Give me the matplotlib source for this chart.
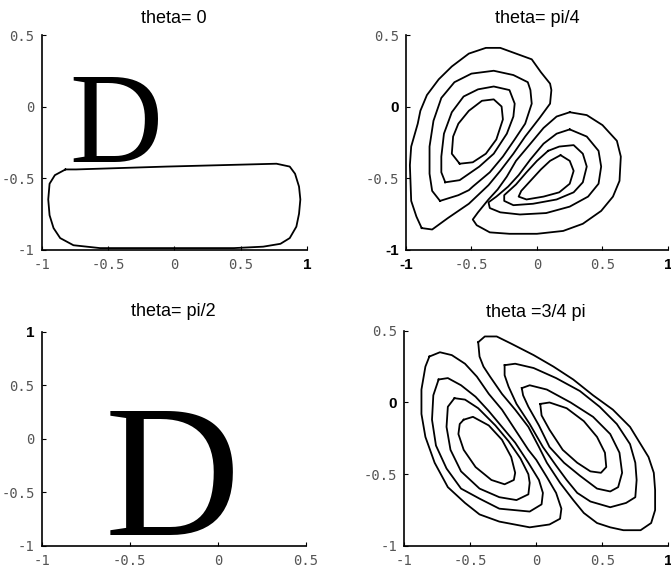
import matplotlib
matplotlib.use('Agg')
import matplotlib.pyplot as plt

# contour outlines, (x, y) in data units
theta0_loop = [(-0.82, -0.44), (-0.74, -0.44), (-0.06, -0.42), (0.77, -0.40), (0.87, -0.42),
               (0.91, -0.47), (0.94, -0.56), (0.95, -0.65), (0.94, -0.75), (0.92, -0.84),
               (0.87, -0.92), (0.80, -0.96), (0.67, -0.98), (0.45, -0.99), (-0.06, -0.99),
               (-0.56, -0.99), (-0.76, -0.97), (-0.86, -0.92), (-0.91, -0.85), (-0.94, -0.76),
               (-0.95, -0.65), (-0.94, -0.54), (-0.90, -0.48)]

pi4_left1 = [(-0.88, -0.85), (-0.92, -0.77), (-0.96, -0.66), (-0.97, -0.41), (-0.96, -0.28),
             (-0.91, -0.12), (-0.89, -0.03), (-0.84, 0.08), (-0.75, 0.19), (-0.65, 0.28),
             (-0.52, 0.37), (-0.39, 0.41), (-0.28, 0.41), (-0.16, 0.37), (-0.04, 0.33),
             (0.03, 0.24), (0.10, 0.16), (0.11, 0.115), (0.10, 0.02), (0.02, -0.08),
             (-0.09, -0.21), (-0.18, -0.33), (-0.28, -0.45), (-0.37, -0.55), (-0.52, -0.68),
             (-0.68, -0.78), (-0.80, -0.86)]
pi4_left2 = [(-0.74, -0.66), (-0.80, -0.59), (-0.82, -0.47), (-0.82, -0.28), (-0.79, -0.10),
             (-0.73, 0.06), (-0.63, 0.17), (-0.50, 0.23), (-0.33, 0.25), (-0.18, 0.22),
             (-0.07, 0.17), (-0.05, 0.115), (-0.04, 0.02), (-0.09, -0.12), (-0.17, -0.23),
             (-0.26, -0.35), (-0.36, -0.46), (-0.49, -0.56), (-0.52, -0.585), (-0.60, -0.62)]
pi4_left3 = [(-0.70, -0.53), (-0.73, -0.46), (-0.73, -0.35), (-0.71, -0.19), (-0.65, -0.04),
             (-0.56, 0.07), (-0.45, 0.12), (-0.33, 0.14), (-0.21, 0.115), (-0.17, 0.02),
             (-0.18, -0.07), (-0.23, -0.19), (-0.33, -0.33), (-0.44, -0.42), (-0.59, -0.515)]
pi4_left4 = [(-0.59, -0.40), (-0.65, -0.33), (-0.64, -0.21), (-0.60, -0.12), (-0.52, -0.03),
             (-0.42, 0.04), (-0.33, 0.05), (-0.27, 0.00), (-0.26, -0.09), (-0.31, -0.23),
             (-0.39, -0.33), (-0.49, -0.39)]
pi4_right1 = [(0.25, -0.04), (0.38, -0.06), (0.50, -0.13), (0.61, -0.24), (0.64, -0.35),
              (0.63, -0.52), (0.58, -0.63), (0.49, -0.73), (0.35, -0.82), (0.20, -0.87),
              (0.00, -0.89), (-0.21, -0.89), (-0.36, -0.88), (-0.46, -0.83), (-0.49, -0.79),
              (-0.45, -0.74), (-0.37, -0.65), (-0.30, -0.58), (-0.23, -0.49), (-0.16, -0.38),
              (-0.05, -0.26), (0.05, -0.15), (0.15, -0.07)]
pi4_right2 = [(0.25, -0.16), (0.38, -0.21), (0.47, -0.31), (0.49, -0.42), (0.47, -0.54),
              (0.39, -0.63), (0.25, -0.70), (0.07, -0.745), (-0.13, -0.755), (-0.28, -0.74),
              (-0.36, -0.71), (-0.37, -0.67), (-0.31, -0.63), (-0.22, -0.56), (-0.14, -0.48),
              (-0.05, -0.37), (0.05, -0.26), (0.15, -0.19)]
pi4_right3 = [(0.085, -0.31), (0.17, -0.28), (0.28, -0.27), (0.35, -0.33), (0.38, -0.42),
              (0.35, -0.53), (0.28, -0.60), (0.15, -0.65), (-0.03, -0.68), (-0.18, -0.69),
              (-0.25, -0.66), (-0.25, -0.62), (-0.16, -0.545), (-0.08, -0.46), (0.00, -0.38)]
pi4_right4 = [(0.18, -0.34), (0.25, -0.38), (0.28, -0.45), (0.25, -0.54), (0.17, -0.60),
              (0.05, -0.63), (-0.08, -0.65), (-0.14, -0.63), (-0.12, -0.59), (-0.05, -0.52),
              (0.03, -0.44), (0.10, -0.38)]

pi34_left1 = [(-0.81, 0.32), (-0.73, 0.35), (-0.64, 0.33), (-0.54, 0.27), (-0.45, 0.18),
              (-0.36, 0.06), (-0.26, -0.05), (-0.16, -0.19), (-0.06, -0.33), (0.00, -0.40),
              (0.08, -0.52), (0.15, -0.63), (0.19, -0.74), (0.18, -0.81), (0.10, -0.85),
              (-0.05, -0.87), (-0.28, -0.83), (-0.43, -0.78), (-0.54, -0.70), (-0.67, -0.59),
              (-0.77, -0.42), (-0.84, -0.24), (-0.87, -0.08), (-0.87, 0.09), (-0.84, 0.25)]
pi34_left2 = [(-0.74, 0.16), (-0.67, 0.17), (-0.57, 0.12), (-0.46, 0.04), (-0.36, -0.06),
              (-0.26, -0.17), (-0.16, -0.28), (-0.06, -0.42), (0.02, -0.54), (0.05, -0.63),
              (0.04, -0.71), (-0.05, -0.76), (-0.28, -0.74), (-0.43, -0.67), (-0.57, -0.60),
              (-0.68, -0.46), (-0.76, -0.30), (-0.79, -0.12), (-0.78, 0.05)]
pi34_left3 = [(-0.62, 0.03), (-0.54, 0.02), (-0.44, -0.04), (-0.31, -0.16), (-0.21, -0.27),
              (-0.12, -0.39), (-0.06, -0.50), (-0.05, -0.56), (-0.06, -0.64), (-0.15, -0.68),
              (-0.28, -0.66), (-0.43, -0.60), (-0.57, -0.48), (-0.65, -0.33), (-0.68, -0.17),
              (-0.67, -0.03)]
pi34_left4 = [(-0.55, -0.12), (-0.48, -0.10), (-0.36, -0.16), (-0.26, -0.26), (-0.19, -0.38),
              (-0.16, -0.49), (-0.17, -0.54), (-0.24, -0.57), (-0.34, -0.54), (-0.46, -0.45),
              (-0.55, -0.33), (-0.59, -0.22), (-0.58, -0.15)]
pi34_right1 = [(-0.44, 0.42), (-0.39, 0.46), (-0.30, 0.46), (-0.19, 0.41), (-0.02, 0.33),
               (0.13, 0.25), (0.28, 0.16), (0.43, 0.05), (0.58, -0.05), (0.71, -0.17),
               (0.79, -0.29), (0.85, -0.38), (0.89, -0.49), (0.90, -0.61), (0.90, -0.75),
               (0.87, -0.84), (0.79, -0.89), (0.66, -0.89), (0.56, -0.87), (0.46, -0.84),
               (0.36, -0.77), (0.28, -0.68), (0.18, -0.56), (0.08, -0.42), (0.02, -0.31),
               (-0.06, -0.17), (-0.16, -0.05), (-0.26, 0.06), (-0.35, 0.18), (-0.40, 0.25),
               (-0.43, 0.32)]
pi34_right2 = [(-0.24, 0.26), (-0.16, 0.27), (-0.02, 0.24), (0.15, 0.17), (0.33, 0.08),
               (0.48, -0.03), (0.61, -0.15), (0.71, -0.29), (0.75, -0.42), (0.76, -0.54),
               (0.75, -0.66), (0.68, -0.70), (0.56, -0.73), (0.41, -0.69), (0.31, -0.63),
               (0.23, -0.54), (0.15, -0.44), (0.05, -0.31), (-0.05, -0.15), (-0.15, -0.01),
               (-0.21, 0.11), (-0.24, 0.19)]
pi34_right3 = [(-0.11, 0.10), (-0.05, 0.12), (0.08, 0.09), (0.26, 0.00), (0.43, -0.10),
               (0.56, -0.22), (0.63, -0.35), (0.65, -0.49), (0.62, -0.59), (0.56, -0.62),
               (0.46, -0.60), (0.33, -0.51), (0.21, -0.42), (0.10, -0.31), (0.02, -0.16),
               (-0.06, -0.03), (-0.10, 0.05)]
pi34_right4 = [(0.03, -0.01), (0.10, 0.00), (0.23, -0.04), (0.36, -0.13), (0.46, -0.24),
               (0.52, -0.35), (0.53, -0.45), (0.49, -0.49), (0.41, -0.48), (0.31, -0.42),
               (0.20, -0.33), (0.10, -0.19), (0.04, -0.09)]

titles = ['theta= 0', 'theta= pi/4', 'theta= pi/2', 'theta =3/4 pi']
ticks_full = [-1, -0.5, 0, 0.5, 1]
labels_full = ['-1', '-0.5', '0', '0.5', '1']
ticks_low = [-1, -0.5, 0, 0.5]
labels_low = ['-1', '-0.5', '0', '0.5']

fig = plt.figure(figsize=(6.71, 5.71), dpi=100)

rects = [[0.062, 0.563, 0.3955, 0.3757],
         [0.605, 0.563, 0.3905, 0.3757],
         [0.062, 0.0438, 0.394, 0.3752],
         [0.6025, 0.0438, 0.3935, 0.377]]
axes = [fig.add_axes(r) for r in rects]


def style(ax, xt, xl, yt, yl, title, tpad):
    ax.set_xticks(xt)
    ax.set_xticklabels(xl)
    ax.set_yticks(yt)
    ax.set_yticklabels(yl)
    ax.set_xlim(xt[0], xt[-1])
    ax.set_ylim(yt[0], yt[-1])
    for s in ['top', 'right']:
        ax.spines[s].set_visible(False)
    for s in ['left', 'bottom']:
        ax.spines[s].set_linewidth(1.2)
    ax.tick_params(direction='in', length=3, width=0.8, labelsize=10,
                   labelcolor='#555555')
    ax.tick_params(axis='x', pad=6)
    ax.tick_params(axis='y', pad=5)
    for t in ax.get_xticklabels() + ax.get_yticklabels():
        t.set_fontfamily('DejaVu Sans Mono')
    ax.set_title(title, fontsize=13, family='Liberation Sans', pad=tpad)


def bold_label(lab):
    lab.set_fontfamily('Liberation Sans')
    lab.set_fontweight('bold')
    lab.set_color('black')
    lab.set_fontsize(11)


def loop(ax, pts):
    pts = pts + [pts[0]]
    xs = [p[0] for p in pts]
    ys = [p[1] for p in pts]
    ax.plot(xs, ys, color='black', lw=1.3)


ax1, ax2, ax3, ax4 = axes

style(ax1, ticks_full, labels_full, ticks_low, labels_low, titles[0], 9)
loop(ax1, theta0_loop)
ax1.text(-0.79, -0.39, 'D', family='Liberation Serif', fontsize=93, va='baseline')
bold_label(ax1.get_xticklabels()[-1])

style(ax2, ticks_full, labels_full, ticks_low, labels_low, titles[1], 9)
for c in [pi4_left1, pi4_left2, pi4_left3, pi4_left4,
          pi4_right1, pi4_right2, pi4_right3, pi4_right4]:
    loop(ax2, c)
bold_label(ax2.get_xticklabels()[0])
bold_label(ax2.get_xticklabels()[-1])
bold_label(ax2.get_yticklabels()[0])
bold_label(ax2.get_yticklabels()[2])

style(ax3, ticks_low, labels_low, ticks_full, labels_full, titles[2], 11)
ax3.text(-0.64, -0.897, 'D', family='Liberation Serif', fontsize=135, va='baseline')
bold_label(ax3.get_yticklabels()[-1])

style(ax4, ticks_full, labels_full, ticks_low, labels_low, titles[3], 10)
for c in [pi34_left1, pi34_left2, pi34_left3, pi34_left4,
          pi34_right1, pi34_right2, pi34_right3, pi34_right4]:
    loop(ax4, c)
bold_label(ax4.get_xticklabels()[-1])
bold_label(ax4.get_yticklabels()[2])

fig.savefig('out.png', dpi=100)
